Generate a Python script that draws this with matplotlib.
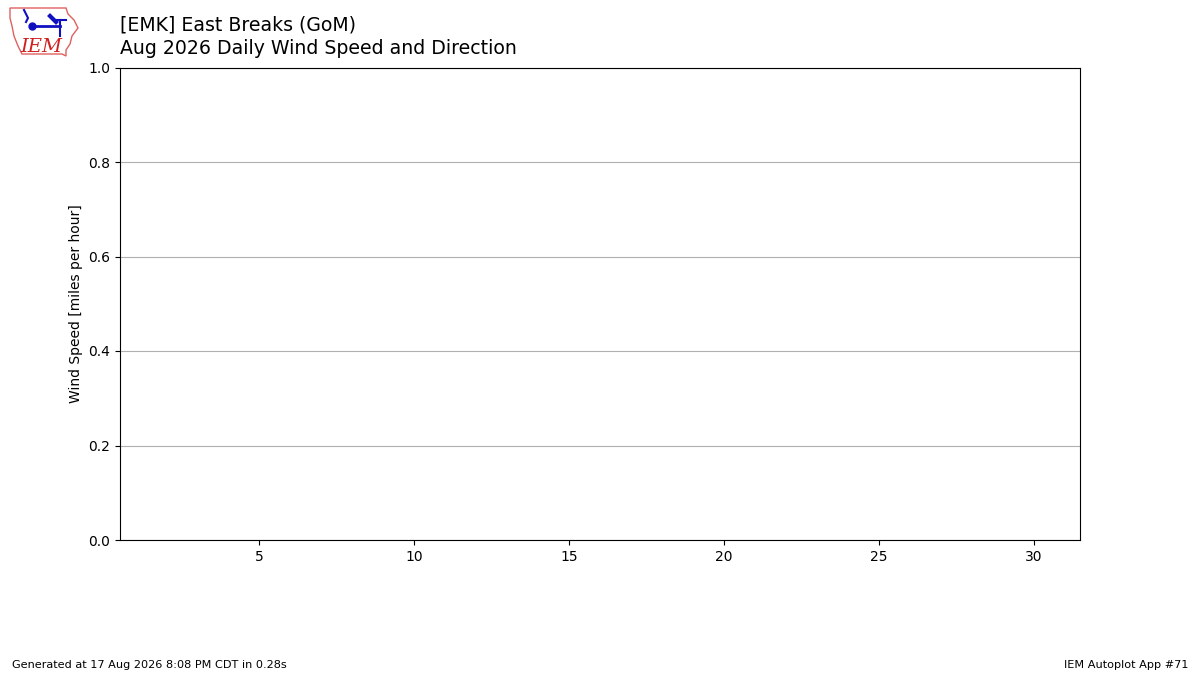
import matplotlib
matplotlib.use("Agg")
import matplotlib.pyplot as plt
from matplotlib.patches import Polygon

# no observations for this month, so the series are empty
days = []
speeds = []
directions = []

title1 = "[EMK] East Breaks (GoM)"
title2 = "Aug 2026 Daily Wind Speed and Direction"
footer_left = "Generated at 17 Aug 2026 8:08 PM CDT in 0.28s"
footer_right = "IEM Autoplot App #71"

fig = plt.figure(figsize=(12, 6.75), dpi=100)
ax = fig.add_axes([0.1, 0.2, 0.8, 0.7])

ax.bar(days, speeds, color="tab:blue")
ax.set_xlim(0.5, 31.5)
ax.set_ylim(0, 1)
ax.set_xticks([5, 10, 15, 20, 25, 30])
ax.set_yticks([0.0, 0.2, 0.4, 0.6, 0.8, 1.0])
ax.grid(True, axis="y", color="#b0b0b0")
ax.set_axisbelow(True)
ax.set_ylabel("Wind Speed [miles per hour]")

fig.text(0.1, 1 - 25 / 675, title1, fontsize=13.6, va="center")
fig.text(0.1, 1 - 48 / 675, title2, fontsize=13.6, va="center")
fig.text(0.01, 0.01, footer_left, fontsize=8.1)
fig.text(0.99, 0.01, footer_right, fontsize=8.1, ha="right")

# rough IEM logo
lax = fig.add_axes([8 / 1200, 1 - 58 / 675, 72 / 1200, 52 / 675])
lax.set_xlim(0, 72)
lax.set_ylim(52, 0)
lax.axis("off")
iowa = [(2, 2), (58, 2), (60, 8), (66, 14), (70, 22), (64, 30), (62, 38),
        (58, 44), (58, 50), (54, 48), (14, 48), (10, 40), (6, 30), (4, 20),
        (2, 12)]
lax.add_patch(Polygon(iowa, closed=True, fill=False, ec="#e06060", lw=1))
lax.text(12, 46, "IEM", color="#d02020", fontsize=14, family="DejaVu Serif",
         style="italic")
lax.plot([24, 52], [20, 20], color="#1010c0", lw=2)
lax.plot([52, 52], [14, 30], color="#1010c0", lw=1.5)
lax.plot([46, 58], [14, 14], color="#1010c0", lw=1.5)
lax.plot(24, 20, "o", color="#1010c0", ms=5)
lax.plot([16, 20, 18], [4, 12, 16], color="#1010c0", lw=1.5)
lax.plot([42, 48], [10, 16], color="#1010c0", lw=3)

fig.savefig("out.png", dpi=100)
